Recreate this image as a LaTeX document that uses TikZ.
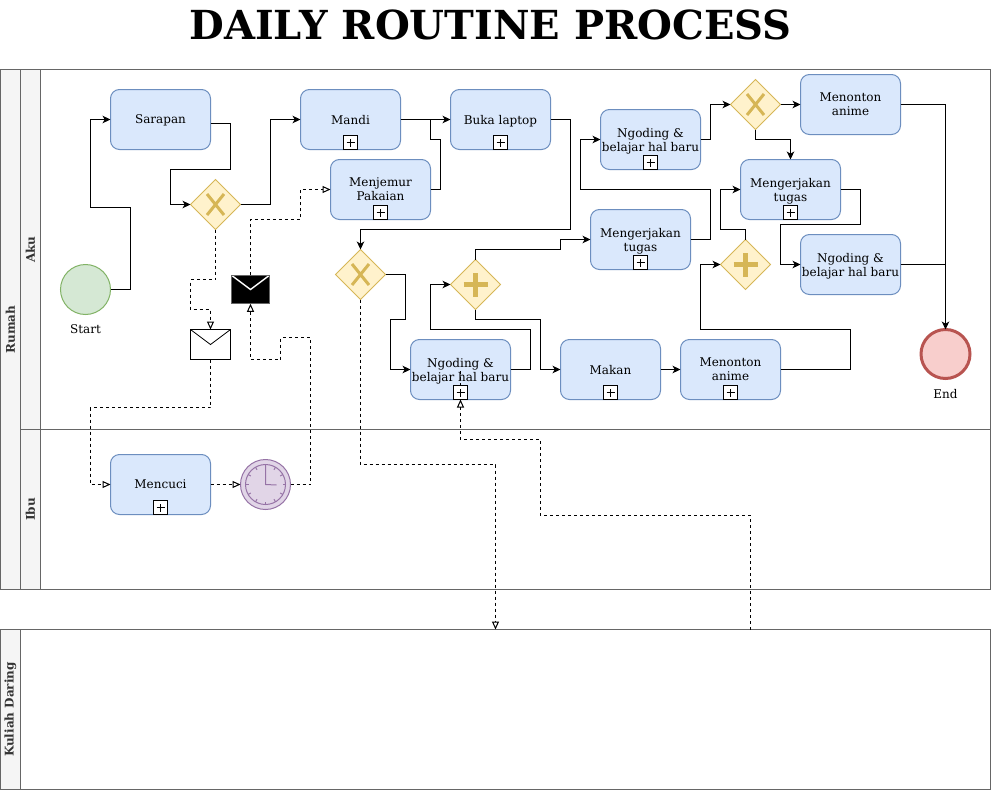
\documentclass[tikz,border=0pt]{standalone}
\usepackage{fontspec}
\setmainfont{DejaVu Serif}
\usetikzlibrary{positioning, shapes.geometric, arrows.meta}
\definecolor{TaskBlue}{HTML}{DAE8FC}
\definecolor{TaskLine}{HTML}{6C8EBF}
\definecolor{GateYellow}{HTML}{FFF2CC}
\definecolor{GateLine}{HTML}{D6B656}
\definecolor{StartGreen}{HTML}{D5E8D4}
\definecolor{StartLine}{HTML}{82B366}
\definecolor{EndRed}{HTML}{F8CECC}
\definecolor{EndLine}{HTML}{B85450}
\definecolor{TimerPurple}{HTML}{E1D5E7}
\definecolor{TimerLine}{HTML}{9673A6}
\definecolor{LaneGray}{HTML}{F5F5F5}
\definecolor{LaneLine}{HTML}{666666}
\definecolor{LaneText}{HTML}{333333}
\begin{document}
\begin{tikzpicture}[x=1pt, y=-1pt, font=\fontsize{12}{14}\selectfont, line width=1pt,
      every node/.style={outer sep=0pt, inner sep=0pt},
      lanebox/.style={rectangle, draw=LaneLine, fill=white, anchor=north west},
      lanehead/.style={rectangle, draw=LaneLine, fill=LaneGray, anchor=north west, minimum width=20pt,
      text=LaneText, font=\fontsize{12}{14}\selectfont\bfseries},
      task/.style={rectangle, rounded corners=9pt, draw=TaskLine, fill=TaskBlue, minimum width=100pt, minimum height=60pt,
      align=center, text depth=0pt},
      markbox/.style={rectangle, draw=black, fill=white, minimum size=14pt, anchor=south,
      path picture={\draw (path picture bounding box.center) ++(-4pt,0) -- ++(8pt,0)
        (path picture bounding box.center) ++(0,-4pt) -- ++(0,8pt);}},
      gatex/.style={diamond, draw=GateLine, fill=GateYellow, minimum size=50pt, line width=0.8pt,
      path picture={\draw[GateLine, line width=3pt] (path picture bounding box.center) ++(-8.5pt,-10.5pt) -- ++(17pt,21pt)
        (path picture bounding box.center) ++(8.5pt,-10.5pt) -- ++(-17pt,21pt);}},
      gateplus/.style={diamond, draw=GateLine, fill=GateYellow, minimum size=50pt, line width=0.8pt,
      path picture={\draw[GateLine, line width=5pt] (path picture bounding box.center) ++(-12pt,0) -- ++(24pt,0)
        (path picture bounding box.center) ++(0,-12pt) -- ++(0,24pt);}},
      startev/.style={circle, draw=StartLine, fill=StartGreen, minimum size=50pt},
      endev/.style={circle, draw=EndLine, fill=EndRed, minimum size=49pt, line width=3pt},
      timerev/.style={circle, draw=TimerLine, fill=TimerPurple, minimum size=50pt,
      path picture={
        \draw[TimerLine] (path picture bounding box.center) circle (20pt);
        \foreach \ang in {0,30,...,330}
          \draw[TimerLine] (path picture bounding box.center) ++(\ang:20pt) -- ++(\ang:-3pt);
        \draw[TimerLine] (path picture bounding box.center) ++(0,19pt) -- ++(0,-19pt) -- ++(11pt,-0.5pt);}},
      mailwhite/.style={rectangle, draw=black, fill=white, minimum width=40pt, minimum height=30pt,
      path picture={\draw[line width=0.8pt] (path picture bounding box.north west) -- (path picture bounding box.center)
        -- (path picture bounding box.north east);}},
      mailblack/.style={rectangle, draw=LaneLine, fill=black, minimum width=38pt, minimum height=28.5pt,
      path picture={\draw[white, line width=1.4pt] (path picture bounding box.north west) -- (path picture bounding box.center)
        -- (path picture bounding box.north east);}},
      flow/.style={draw=black, -{Stealth[length=8pt, width=7.5pt, inset=2.2pt]}},
      msg/.style={draw=black, dash pattern=on 3pt off 3pt, -{Triangle[open, length=8pt, width=7pt]}}
    ]
      \useasboundingbox (0,0) rectangle (991,790);

      \node[font=\fontsize{40}{48}\selectfont\bfseries] (title) at (490.5,25) {DAILY ROUTINE PROCESS};

      % pools and lanes
      \node[lanebox, minimum width=990pt, minimum height=520pt] (rumah) at (0.5,69.5) {};
      \node[lanebox, minimum width=970pt, minimum height=360pt] (aku) at (20.5,69.5) {};
      \node[lanebox, minimum width=970pt, minimum height=160pt] (ibu) at (20.5,429.5) {};
      \node[lanebox, minimum width=990pt, minimum height=160pt] (kuliah) at (0.5,629.5) {};
      \node[lanehead, minimum height=520pt] (rumahhead) at (rumah.north west) {\rotatebox{90}{Rumah}};
      \node[lanehead, minimum height=360pt] (akuhead) at (aku.north west) {\rotatebox{90}{Aku}};
      \node[lanehead, minimum height=160pt] (ibuhead) at (ibu.north west) {\rotatebox{90}{Ibu}};
      \node[lanehead, minimum height=160pt] (kuliahhead) at (kuliah.north west) {\rotatebox{90}{Kuliah Daring}};

      % lane Aku
      \node[startev] (start) at (85.5,289.5) {};
      \node[below=10pt of start] (startlabel) {Start};
      \node[task] (sarapan) at (160.5,119.5) {Sarapan};
      \node[gatex] (gatea) at (215.5,204.5) {};
      \node[task, right=90pt of sarapan] (mandi) {Mandi};
      \node[task, below right=10pt and -70pt of mandi] (jemur) {Menjemur\\Pakaian};
      \node[task, right=50pt of mandi] (laptop) {Buka laptop};
      \node[task] (ngodinga) at (650.5,139.5) {Ngoding \&\\belajar hal baru};
      \node[gatex] (gateb) at (755.5,104.5) {};
      \node[task, anchor=west] (animea) at (800.5,104.5) {Menonton\\anime};
      \node[task] (tugasa) at (790.5,189.5) {Mengerjakan\\tugas};
      \node[task, anchor=north west] (ngodingb) at (800.5,234.5) {Ngoding \&\\belajar hal baru};
      \node[task] (tugasb) at (640.5,239.5) {Mengerjakan\\tugas};
      \node[gateplus] (gatec) at (745.5,264.5) {};
      \node[gatex] (gated) at (360.5,274.5) {};
      \node[gateplus] (gatee) at (475.5,284.5) {};
      \node[task] (ngodingc) at (460.5,369.5) {Ngoding \&\\belajar hal baru};
      \node[task, right=50pt of ngodingc] (makan) {Makan};
      \node[task, right=20pt of makan] (animeb) {Menonton\\anime};
      \node[endev] (finish) at (945.5,354) {};
      \node[below=11pt of finish] (finishlabel) {End};
      \node[mailwhite] (mailin) at (210.5,344.5) {};
      \node[mailblack] (mailout) at (250.5,289.5) {};

      % lane Ibu
      \node[task] (cuci) at (160.5,484.5) {Mencuci};
      \node[timerev, right=30pt of cuci] (timer) {};

      % sub process marks
      \foreach \nm in {mandi, jemur, laptop, ngodinga, tugasa, tugasb, ngodingc, makan, animeb, cuci}
        \node[markbox] (\nm mark) at (\nm.south) {};

      % sequence flows
      \draw[flow] (start.east) -- (130.5,289.5) -- (130.5,207.5) -- (90.5,207.5) |- (sarapan.west);
      \draw[flow] (210.5,123.5) -- (230.5,123.5) -- (230.5,169.5) -- (170.5,169.5) |- (gatea.west);
      \draw[flow] (gatea.east) -- (270.5,204.5) |- (mandi.west);
      \draw[flow] (mandi.east) -- (laptop.west);
      \draw (jemur.east) -- (440.5,189.5) -- (440.5,139.5) -- (430.5,139.5) -- (430.5,119.5);
      \draw[flow] (laptop.east) -- (570.5,119.5) -- (570.5,229.5) -| (gated.north);
      \draw[flow] (gated.east) -- (405.5,274.5) -- (405.5,319.5) -- (390.5,319.5) |- (ngodingc.west);
      \draw[flow] (ngodingc.east) -- (530.5,369.5) -- (530.5,329.5) -- (430.5,329.5) |- (gatee.west);
      \draw[flow] (gatee.north) -- (475.5,249.5) -- (560.5,249.5) |- (tugasb.west);
      \draw[flow] (gatee.south) -- (475.5,319.5) -- (540.5,319.5) |- (makan.west);
      \draw[flow] (makan.east) -- (animeb.west);
      \draw[flow] (animeb.east) -- (850.5,369.5) -- (850.5,329.5) -- (700.5,329.5) |- (gatec.west);
      \draw[flow] (gatec.north) -- (745.5,229.5) -- (720.5,229.5) |- (tugasa.west);
      \draw[flow] (tugasb.east) -- (710.5,239.5) -- (710.5,189.5) -- (580.5,189.5) |- (ngodinga.west);
      \draw[flow] (ngodinga.east) -- (710.5,139.5) |- (gateb.west);
      \draw[flow] (gateb.east) -- (animea.west);
      \draw[flow] (gateb.south) -- (755.5,139.5) -| (tugasa.north);
      \draw[flow] (tugasa.east) -- (860.5,189.5) -- (860.5,224.5) -- (780.5,224.5) |- (ngodingb.west);
      \draw[flow] (animea.east) -| (finish.north);
      \draw (ngodingb.east) -- (945.5,264.5);

      % message flows
      \coordinate (kuliahin) at (495.5,629.5);
      \coordinate (kuliahout) at (750.5,629.5);
      \draw[msg] (gatea.south) -- (215.5,279.5) -- (190.5,279.5) -- (190.5,309.5) -| (mailin.north);
      \draw[msg] (mailin.south) -- (210.5,407.5) -- (90.5,407.5) |- (cuci.west);
      \draw[msg] (cuci.east) -- (timer.west);
      \draw[msg] (timer.east) -- (310.5,484.5) -- (310.5,337.5) -- (280.5,337.5) -- (280.5,359.5) -| (mailout.south);
      \draw[msg] (mailout.north) -- (250.5,219.5) -- (300.5,219.5) |- (jemur.west);
      \draw[msg] (gated.south) -- (360.5,464.5) -- (495.5,464.5) -- (kuliahin);
      \draw[msg] (kuliahout) -- (750.5,515.5) -- (540.5,515.5) -- (540.5,439.5) -- (460.5,439.5) -- (ngodingc.south);
      \draw[dash pattern=on 3pt off 3pt] (ngodingcmark.north) -- (ngodingc.center);
    \end{tikzpicture}
\end{document}
